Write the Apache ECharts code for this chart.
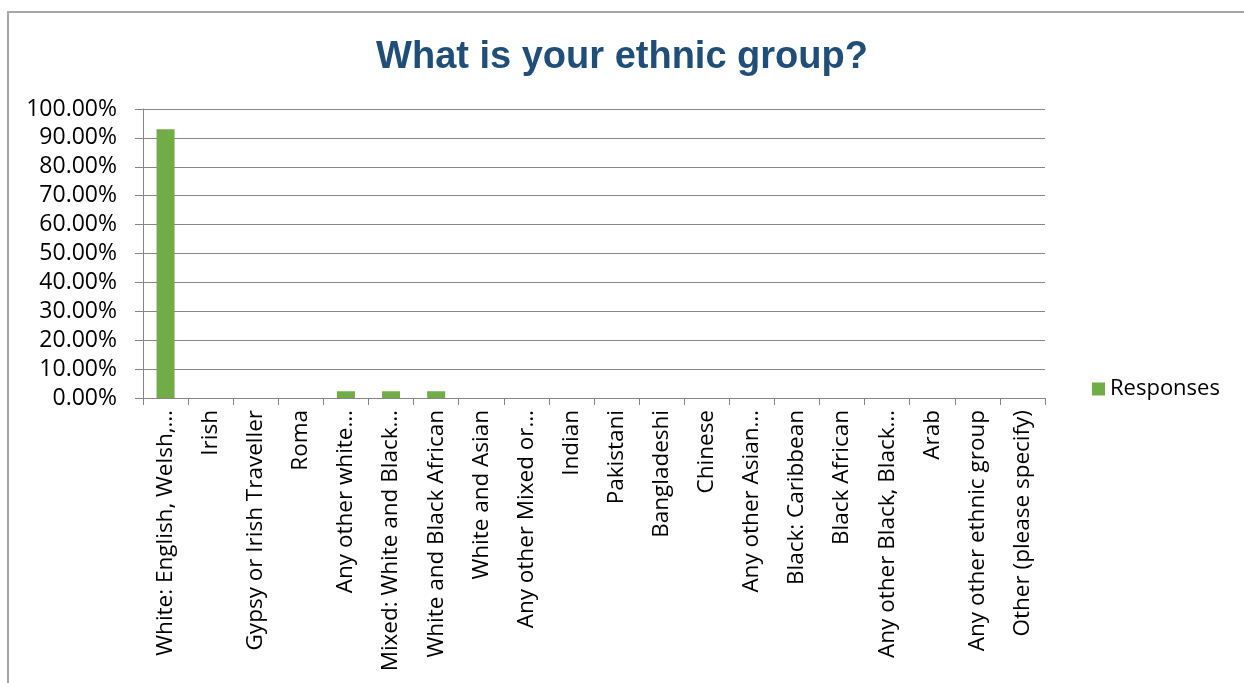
<!DOCTYPE html>
<html>
<head>
<meta charset="utf-8">
<script src="https://cdn.jsdelivr.net/npm/echarts@6/dist/echarts.min.js"></script>
<style>
  html, body { margin: 0; padding: 0; background: #fff; }
  #chart { width: 1244px; height: 683px; }
</style>
</head>
<body>
<div id="chart"></div>
<script>
// Ethnic group survey responses (share of respondents, %)
const categories = [
  'White: English, Welsh,…',
  'Irish',
  'Gypsy or Irish Traveller',
  'Roma',
  'Any other white…',
  'Mixed: White and Black…',
  'White and Black African',
  'White and Asian',
  'Any other Mixed or…',
  'Indian',
  'Pakistani',
  'Bangladeshi',
  'Chinese',
  'Any other Asian…',
  'Black: Caribbean',
  'Black African',
  'Any other Black, Black…',
  'Arab',
  'Any other ethnic group',
  'Other (please specify)'
];
const responses = [93.02, 0, 0, 0, 2.33, 2.33, 2.33, 0, 0, 0, 0, 0, 0, 0, 0, 0, 0, 0, 0, 0];
const seriesName = 'Responses';
const titleText = 'What is your ethnic group?';

const chart = echarts.init(document.getElementById('chart'), null, { renderer: 'canvas' });
const textFont = '"Open Sans", sans-serif';

chart.setOption({
  animation: false,
  backgroundColor: '#ffffff',
  graphic: [{
    type: 'rect',
    shape: { x: 8, y: 12, width: 1400, height: 900 },
    style: { fill: 'none', stroke: '#a6a6a6', lineWidth: 2 },
    silent: true
  }],
  title: {
    text: titleText,
    left: 617,
    textAlign: 'center',
    top: 34,
    textStyle: {
      color: '#1f4e79',
      fontFamily: '"Liberation Sans", sans-serif',
      fontWeight: 'bold',
      fontSize: 38
    }
  },
  legend: {
    data: [seriesName],
    left: 1087,
    top: 373,
    icon: 'rect',
    itemWidth: 13,
    itemHeight: 13,
    itemGap: 8,
    textStyle: { fontFamily: textFont, fontSize: 22, color: '#000' }
  },
  grid: { left: 143, right: 199, top: 109, bottom: 285, containLabel: false },
  xAxis: {
    type: 'category',
    data: categories,
    boundaryGap: true,
    axisLine: { show: true, lineStyle: { color: '#868686', width: 1 } },
    axisTick: { show: true, length: 7, lineStyle: { color: '#868686' } },
    axisLabel: {
      interval: 0,
      rotate: 90,
      margin: 12,
      color: '#000',
      fontFamily: textFont,
      fontSize: 22.5
    }
  },
  yAxis: {
    type: 'value',
    min: 0,
    max: 100,
    interval: 10,
    axisLine: { show: true, lineStyle: { color: '#868686', width: 1 } },
    axisTick: { show: true, length: 8, lineStyle: { color: '#868686' } },
    splitLine: { show: true, lineStyle: { color: '#868686', width: 1 } },
    axisLabel: {
      margin: 26,
      color: '#000',
      fontFamily: textFont,
      fontSize: 23,
      formatter: v => v.toFixed(2) + '%'
    }
  },
  series: [{
    name: seriesName,
    type: 'bar',
    data: responses,
    barWidth: 18,
    itemStyle: { color: '#70ad47' }
  }]
});
</script>
</body>
</html>
